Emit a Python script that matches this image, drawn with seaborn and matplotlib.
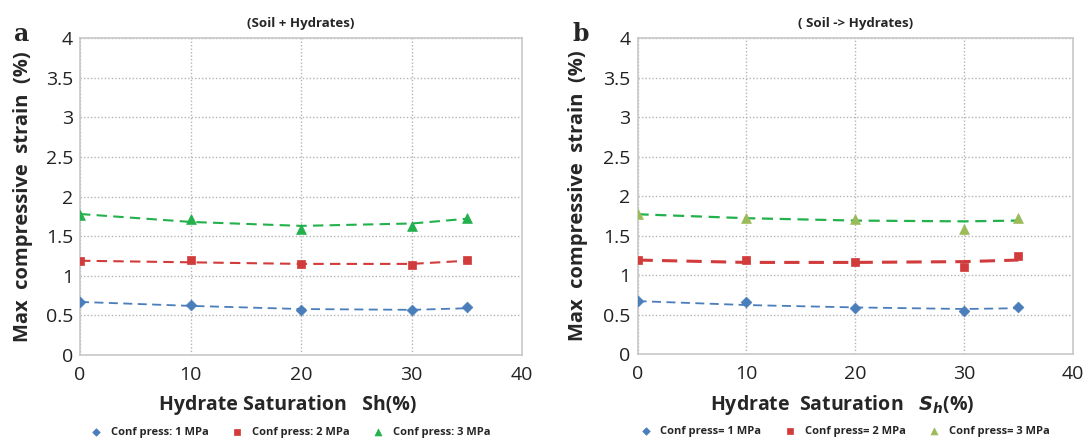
import matplotlib
matplotlib.use("Agg")
import matplotlib.pyplot as plt
import seaborn as sns
import pandas as pd

# hydrate saturation (%)
sh = [0, 10, 20, 30, 35]

# panel a: (Soil + Hydrates) measured points
a_1mpa = [0.67, 0.63, 0.57, 0.57, 0.60]
a_2mpa = [1.19, 1.20, 1.15, 1.13, 1.20]
a_3mpa = [1.77, 1.72, 1.59, 1.63, 1.73]
# panel a trend lines read at the same saturations
a_1mpa_trend = [0.67, 0.62, 0.58, 0.57, 0.59]
a_2mpa_trend = [1.19, 1.17, 1.15, 1.15, 1.19]
a_3mpa_trend = [1.78, 1.68, 1.63, 1.66, 1.72]

# panel b: (Soil -> Hydrates)
b_1mpa = [0.67, 0.66, 0.58, 0.54, 0.59]
b_2mpa = [1.19, 1.19, 1.17, 1.10, 1.24]
b_3mpa = [1.77, 1.72, 1.71, 1.58, 1.72]
b_1mpa_trend = [0.67, 0.62, 0.59, 0.57, 0.58]
b_2mpa_trend = [1.19, 1.16, 1.16, 1.17, 1.19]
b_3mpa_trend = [1.77, 1.72, 1.69, 1.68, 1.69]

labels_a = ["Conf press: 1 MPa", "Conf press: 2 MPa", "Conf press: 3 MPa"]
labels_b = ["Conf press= 1 MPa", "Conf press= 2 MPa", "Conf press= 3 MPa"]

sns.set_style("white")
plt.rcParams['font.family'] = ['Open Sans', 'DejaVu Sans']

blue = '#4a7ebb'
red = '#d23b3b'
green = '#22b14c'
green_b = '#9bbb59'


def draw_panel(ax, pts, trends, labels, marker_colors, line_widths, title, letter, xlabel):
    markers = ['D', 's', '^']
    sizes = [30, 38, 50]
    line_colors = [blue, red, green]
    for y, t, lab, mc, lc, mk, sz, lw in zip(pts, trends, labels, marker_colors,
                                             line_colors, markers, sizes, line_widths):
        df = pd.DataFrame({'x': sh, 'y': y, 't': t})
        sns.lineplot(data=df, x='x', y='t', ax=ax, color=lc, linestyle=(0, (5, 3)),
                     linewidth=lw, legend=False)
        sns.scatterplot(data=df, x='x', y='y', ax=ax, color=mc, marker=mk, s=sz,
                        edgecolor=mc, linewidth=0.5, label=lab, zorder=5)
    ax.set_xlim(0, 40)
    ax.set_ylim(0, 4)
    ax.set_xticks([0, 10, 20, 30, 40])
    ax.set_yticks([0, 0.5, 1, 1.5, 2, 2.5, 3, 3.5, 4])
    ax.set_yticklabels(['0', '0.5', '1', '1.5', '2', '2.5', '3', '3.5', '4'])
    ax.tick_params(labelsize=14, length=0, colors='#222222')
    ax.tick_params(axis='x', pad=8)
    ax.tick_params(axis='y', pad=5)
    ax.grid(True, color='#b5b5b5', linestyle=(0, (1, 1.5)), linewidth=1.0)
    for s in ax.spines.values():
        s.set_color('#c8c8c8')
        s.set_linewidth(1.2)
    ax.set_xlabel(xlabel, fontsize=14, fontweight='bold')
    ax.xaxis.set_label_coords(0.47, -0.125)
    ax.set_ylabel('Max  compressive  strain  (%)', fontsize=14.5, fontweight='bold')
    ax.set_title(title, fontsize=9.5, fontweight='bold', pad=8)
    ax.text(-0.15, 1.012, letter, transform=ax.transAxes, fontsize=17, fontweight='bold',
            family='DejaVu Serif', va='center', ha='left')
    ax.legend(loc='center', bbox_to_anchor=(0.47, -0.246), ncol=3, frameon=False,
              prop={'weight': 'bold', 'size': 8}, handletextpad=0.3,
              columnspacing=1.6, markerscale=0.7, borderaxespad=0, borderpad=0)


fig = plt.figure(figsize=(10.88, 4.44), dpi=100)
ax1 = fig.add_axes([0.0735, 0.2005, 0.4065, 0.7135])
ax2 = fig.add_axes([0.586, 0.2027, 0.400, 0.7113])

draw_panel(ax1, [a_1mpa, a_2mpa, a_3mpa], [a_1mpa_trend, a_2mpa_trend, a_3mpa_trend],
           labels_a, [blue, red, green], [1.3, 1.5, 1.5], '(Soil + Hydrates)', 'a',
           'Hydrate Saturation   Sh(%)')
ax1.yaxis.set_label_coords(-0.107, 0.5)
draw_panel(ax2, [b_1mpa, b_2mpa, b_3mpa], [b_1mpa_trend, b_2mpa_trend, b_3mpa_trend],
           labels_b, [blue, red, green_b], [1.3, 2.2, 1.6], '( Soil -> Hydrates)', 'b',
           r'Hydrate  Saturation   $\mathbfit{S_h}$(%)')
ax2.yaxis.set_label_coords(-0.113, 0.5)

fig.savefig('out.png', dpi=100)
